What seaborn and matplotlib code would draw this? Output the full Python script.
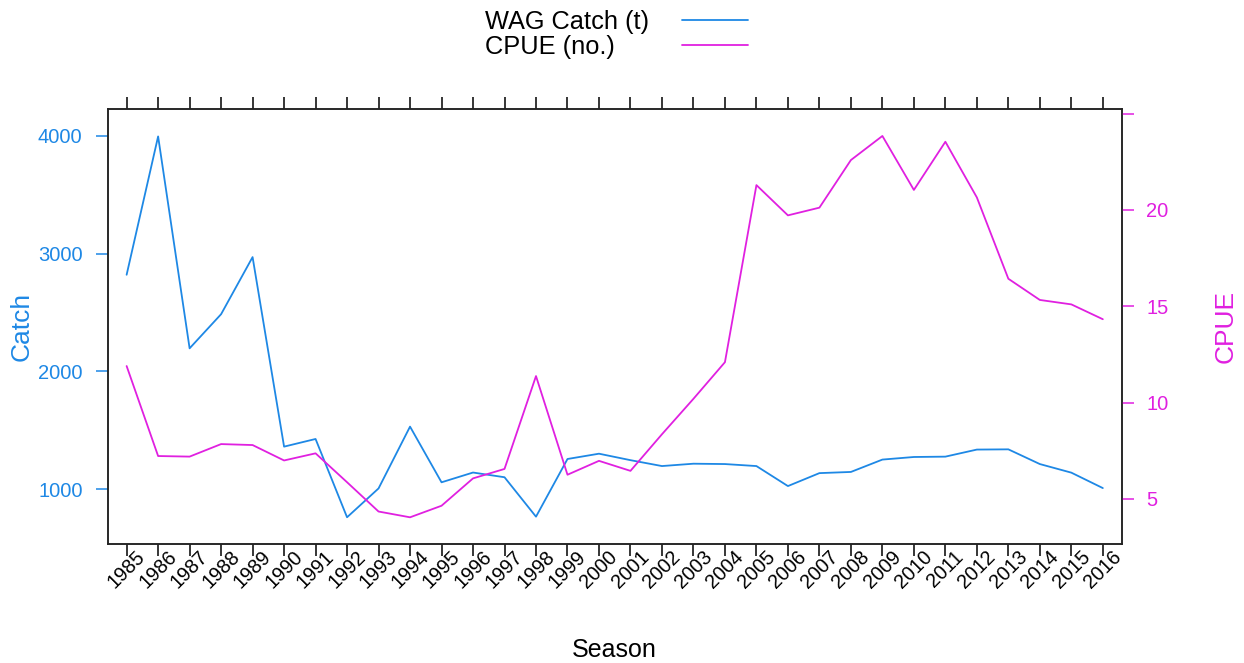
import numpy as np
import pandas as pd
import seaborn as sns
import matplotlib.pyplot as plt

# data
seasons = list(range(1985, 2017))
catch_t = [2820, 3995, 2195, 2485, 2970, 1360, 1425, 760, 1005, 1530,
           1057, 1140, 1100, 765, 1255, 1300, 1245, 1195, 1215, 1212,
           1195, 1025, 1135, 1145, 1250, 1272, 1275, 1335, 1337, 1212,
           1139, 1008]
cpue_no = [11.9, 7.23, 7.2, 7.85, 7.8, 7.0, 7.37, 5.87, 4.35, 4.05,
           4.65, 6.07, 6.56, 11.38, 6.26, 6.98, 6.46, 8.36, 10.2, 12.1,
           21.29, 19.72, 20.12, 22.59, 23.84, 21.04, 23.54, 20.65, 16.43, 15.33,
           15.1, 14.33]
legend_labels = ['WAG Catch (t)', 'CPUE (no.)']
catch_ticks = [1000, 2000, 3000, 4000]
cpue_ticks = [5, 10, 15, 20, 25]
cpue_ticklabels = ['5', '10', '15', '20', '']

blue = '#1e88e5'
magenta = '#e020e0'

sns.set_style('white')
plt.rcParams['font.family'] = ['Liberation Sans', 'DejaVu Sans']
plt.rcParams['text.color'] = 'black'
plt.rcParams['axes.labelcolor'] = 'black'

df = pd.DataFrame({'Season': seasons, 'Catch': catch_t, 'CPUE': cpue_no})

fig = plt.figure(figsize=(12.44, 6.63), dpi=100)
ax = fig.add_axes([0.0866, 0.1795, 0.8151, 0.6561])
ax2 = ax.twinx()

sns.lineplot(data=df, x='Season', y='Catch', ax=ax, color=blue, lw=1.3)
sns.lineplot(data=df, x='Season', y='CPUE', ax=ax2, color=magenta, lw=1.3)

ax.set_xlim(1984.4, 2016.6)
ax.set_ylim(533, 4228)
ax2.set_ylim(2.665, 25.24)

# x axis: ticks top and bottom, labels rotated
ax.set_xticks(seasons)
ax.set_xticklabels([str(s) for s in seasons], rotation=45, ha='center',
                   va='center', rotation_mode='anchor')
ax.tick_params(axis='x', direction='out', length=8.6, width=1.1, colors='black',
               top=True, bottom=True, labeltop=False, pad=9.5, labelsize=14.3)

# left axis
ax.set_yticks(catch_ticks)
ax.tick_params(axis='y', direction='out', length=8.6, width=1.1, colors=blue,
               left=True, pad=9.5, labelsize=14.5)

# right axis
ax2.set_yticks(cpue_ticks)
ax2.set_yticklabels(cpue_ticklabels)
ax2.tick_params(axis='y', direction='out', length=8.6, width=1.1, colors=magenta,
                right=True, pad=9, labelsize=14.5)

for a in (ax, ax2):
    for sp in a.spines.values():
        sp.set_color('#222222')
        sp.set_linewidth(1.1)

ax.set_xlabel('Season', fontsize=18, color='black')
ax.xaxis.label.set_va('center')
ax.xaxis.set_label_coords(0.5, -0.243)

ax.set_ylabel('Catch', fontsize=19, color=blue)
ax.yaxis.label.set_va('center')
ax.yaxis.set_label_coords(-0.0845, 0.5)

ax2.set_ylabel('CPUE', fontsize=19, color=magenta)
ax2.yaxis.label.set_va('center')
ax2.yaxis.set_label_coords(1.1028, 0.5)

# legend at top: text first, line after
handles = [ax.lines[0], ax2.lines[0]]
leg = fig.legend(handles, legend_labels, loc='upper left',
                 bbox_to_anchor=(485 / 1244, 1 - 10 / 663), markerfirst=False,
                 frameon=False, fontsize=18.3, handlelength=2.6,
                 handletextpad=1.3, labelspacing=0.04, borderpad=0,
                 borderaxespad=0)
for t in leg.get_texts():
    t.set_color('black')

# line the texts up on the left (matplotlib right-aligns rows when markerfirst=False)
fig.canvas.draw()
r = fig.canvas.get_renderer()
texts = leg.get_texts()
widths = [t.get_window_extent(r).width for t in texts]
rows = leg._legend_handle_box.get_children()[0].get_children()
for row, w in zip(rows, widths):
    row.sep = row.sep + (max(widths) - w) * 72 / fig.dpi

fig.savefig('out.png', dpi=100)
